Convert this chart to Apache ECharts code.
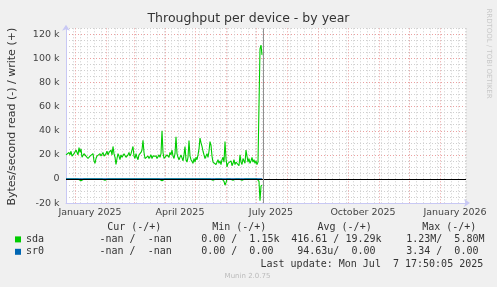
<!DOCTYPE html>
<html><head><meta charset="utf-8">
<script src="https://cdn.jsdelivr.net/npm/echarts@6/dist/echarts.min.js"></script>
<style>html,body{margin:0;padding:0;background:#f0f0f0}#c{width:497px;height:287px}</style>
</head><body><div id="c"></div>
<script>
// x = days since 2024-12-23 (left edge of the graph), values in k (1000 bytes/s)
const sdaWriteK = [
  20, 21, 19, 22, 20, 23, 19, 18, 21, 22,
  24, 25, 20, 26, 22, 25, 18, 17, 21, 22,
  19, 20, 17, 16, 19, 20, 18, 21, 15, 13,
  17, 19, 20, 18, 21, 19, 20, 22, 19, 20,
  21, 23, 20, 22, 21, 24, 20, 27, 21, 18,
  12, 17, 21, 19, 16, 20, 18, 19, 21, 20,
  18, 19, 20, 22, 19, 21, 20, 27, 19, 17,
  21, 18, 16, 20, 19, 22, 24, 32, 22, 17,
  18, 16, 19, 17, 18, 20, 17, 19, 18, 20,
  19, 17, 18, 20, 18, 21, 40, 22, 17, 18,
  16, 20, 19, 18, 22, 20, 24, 19, 17, 21,
  35, 21, 18, 16, 17, 20, 19, 15, 20, 27,
  16, 14, 18, 32, 19, 16, 15, 13, 17, 14,
  18, 16, 20, 25, 34, 30, 27, 23, 20, 17,
  19, 21, 18, 23, 31, 28, 19, 14, 13, 15,
  12, 14, 16, 13, 15, 12, 16, 18, 14, 31,
  17, 10, 13, 14, 12, 15, 11, 13, 16, 12,
  14, 13, 15, 11, 20, 14, 12, 17, 16, 13,
  24, 19, 14, 17, 13, 15, 18, 14, 16, 13,
  15, 12, 14, 13, 108, 111, 103
];
// read values drawn below zero
const sdaReadK = [
  0, 0, 0, 0, 0, 0, 0, 0, 0, 0,
  0, 0, 0, 0, 0, -1.5, -2, 0, 0, 0,
  0, 0, 0, 0, 0, 0, 0, 0, 0, 0,
  0, 0, 0, 0, 0, 0, 0, 0, 0, -1,
  0, 0, 0, 0, 0, 0, 0, 0, 0, 0,
  0, 0, 0, 0, 0, 0, 0, 0, 0, 0,
  0, 0, 0, 0, 0, 0, 0, -1.5, -1, 0,
  0, 0, 0, 0, 0, 0, 0, 0, 0, 0,
  0, 0, 0, 0, 0, 0, -1, 0, 0, 0,
  0, 0, 0, 0, 0, 0, -1.5, -1, 0, 0,
  0, -1, 0, 0, 0, 0, 0, 0, 0, 0,
  0, 0, -1.5, 0, 0, 0, 0, 0, 0, 0,
  0, 0, -1, 0, 0, 0, 0, 0, 0, 0,
  0, 0, 0, 0, 0, 0, -1.5, 0, 0, 0,
  0, 0, 0, 0, 0, 0, 0, -1, 0, 0,
  0, 0, 0, 0, 0, 0, 0, 0, -2, -5,
  -3, 0, 0, 0, 0, 0, 0, -1, 0, 0,
  0, -1.5, 0, 0, 0, 0, -1, 0, 0, 0,
  0, 0, 0, 0, -1.5, 0, 0, 0, 0, 0,
  0, 0, 0, -2, -18, -6, -5
];
const sr0Days = [0, 196];
const sr0WriteK = [0, 0];
const sr0ReadK = [0, 0];

const monthStartDays = [9, 40, 68, 99, 129, 160, 190, 221, 252, 282, 313, 343, 374];
const xLabelDays = [24, 114, 205, 297, 389];
const xLabels = ['January 2025', 'April 2025', 'July 2025', 'October 2025', 'January 2026'];
const lastUpdateDay = 197.5;

const titleText = 'Throughput per device - by year';
const yAxisTitle = 'Bytes/second read (-) / write (+)';
const legendNames = ['sda', 'sr0'];
const statHeaders = ['Cur (-/+)', 'Min (-/+)', 'Avg (-/+)', 'Max (-/+)'];
const sdaStats = ['-nan /  -nan', '0.00 /  1.15k', '416.61 / 19.29k', '1.23M/  5.80M'];
const sr0Stats = ['-nan /  -nan', '0.00 /  0.00', '94.63u/  0.00', '3.34 /  0.00'];
const lastUpdateText = 'Last update: Mon Jul  7 17:50:05 2025';
const muninText = 'Munin 2.0.75';
const watermark = 'RRDTOOL / TOBI OETIKER';

const GREEN = '#00cc00', BLUE = '#0066b3';
const MINOR = '#cfcfcf', MAJOR = '#eca0a0', AXIS = '#c8c8f4';
const DOT = [1, 2];
const dayCats = Array.from({length: 401}, (_, i) => String(i));

const chart = echarts.init(document.getElementById('c'), null, {renderer: 'canvas'});

function line(name, xs, ys, color, extra) {
  return Object.assign({
    name, type: 'line', xAxisIndex: 0, yAxisIndex: 0,
    data: ys.map((v, i) => [xs ? xs[i] : i, v]),
    showSymbol: false, symbol: 'none', animation: false, silent: true,
    lineStyle: {width: 1.1, color}, itemStyle: {color}, z: 3
  }, extra || {});
}

const mono = 'DejaVu Sans Mono';
const texts = [];
function t(x, y, text, opts) {
  texts.push(Object.assign({type: 'text', x, y, silent: true, style: Object.assign({
    text, fontFamily: mono, fontSize: 10, fill: '#333', align: 'left', verticalAlign: 'middle'
  }, opts || {})}));
}
const hdrX = [107.2, 212.2, 317.5, 422.2];
const sdaX = [99.5, 201.2, 291.2, 406.2];
const sr0X = [99.5, 201.2, 297.2, 406.2];
statHeaders.forEach((s, i) => t(hdrX[i], 227.7, s));
sdaStats.forEach((s, i) => t(sdaX[i], 239.5, s));
sr0Stats.forEach((s, i) => t(sr0X[i], 251.8, s));
t(260.5, 264, lastUpdateText);
t(247.5, 276, muninText, {fontFamily: 'DejaVu Sans', fontSize: 7, fill: '#bbb', align: 'center'});
t(248.5, 19, titleText, {fontFamily: 'DejaVu Sans', fontSize: 12.5, fill: '#333', align: 'center'});
texts.push({type: 'text', x: 12, y: 116.7, rotation: Math.PI / 2, silent: true,
  style: {text: yAxisTitle, fontFamily: 'DejaVu Sans', fontSize: 11, fill: '#333', align: 'center', verticalAlign: 'middle'}});
texts.push({type: 'text', x: 489, y: 53.5, rotation: -Math.PI / 2, silent: true,
  style: {text: watermark, fontFamily: 'DejaVu Sans', fontSize: 7, fill: '#c8c8c8', align: 'center', verticalAlign: 'middle'}});

const option = {
  backgroundColor: '#f0f0f0',
  animation: false,
  textStyle: {fontFamily: 'DejaVu Sans'},
  grid: [
    {left: 66, width: 400, top: 28.3, height: 174.8, show: true, backgroundColor: '#ffffff', borderWidth: 0, containLabel: false},
    {left: 66, width: 400, top: 34.3, height: 168.8, show: false, containLabel: false}
  ],
  xAxis: [
    {gridIndex: 0, type: 'value', min: 0, max: 400, interval: 7,
     axisLabel: {show: false}, axisTick: {show: false},
     axisLine: {show: true, onZero: false, lineStyle: {color: AXIS, width: 1}, symbol: ['none', 'arrow'], symbolSize: [6, 6], symbolOffset: [0, 4]},
     splitLine: {show: true, lineStyle: {color: MINOR, width: 1, type: DOT}}},
    {gridIndex: 0, type: 'category', data: dayCats, boundaryGap: false, position: 'bottom',
     axisLine: {show: false}, axisTick: {show: false},
     splitLine: {show: true, interval: (i) => monthStartDays.indexOf(i) >= 0, lineStyle: {color: MAJOR, width: 1, type: DOT}},
     axisLabel: {show: true, interval: (i) => xLabelDays.indexOf(i) >= 0,
       formatter: (v, i) => xLabels[xLabelDays.indexOf(Number(v))] || '',
       fontSize: 9.5, color: '#444', margin: 4, fontFamily: 'DejaVu Sans'}},
    {gridIndex: 1, type: 'value', min: 0, max: 400, show: false}
  ],
  yAxis: [
    {gridIndex: 0, type: 'value', min: -20, max: 125, interval: 5,
     axisLabel: {show: false}, axisTick: {show: false},
     axisLine: {show: true, onZero: false, lineStyle: {color: AXIS, width: 1}, symbol: ['none', 'arrow'], symbolSize: [6, 6], symbolOffset: [0, 3.6]},
     splitLine: {show: true, lineStyle: {color: MINOR, width: 1, type: DOT}}},
    {gridIndex: 1, type: 'value', min: -20, max: 120, interval: 20,
     axisLine: {show: false}, axisTick: {show: false},
     axisLabel: {fontSize: 9.5, color: '#444', margin: 6.5, fontFamily: 'DejaVu Sans',
       formatter: (v) => v === 0 ? '0' : v + ' k'},
     splitLine: {show: true, lineStyle: {color: MAJOR, width: 1, type: DOT}}}
  ],
  legend: {
    orient: 'vertical', left: 15, top: 233.4, padding: 0, itemGap: 0.4,
    itemWidth: 6, itemHeight: 6, icon: 'rect', selectedMode: false,
    data: legendNames,
    textStyle: {fontFamily: mono, fontSize: 10, color: '#333', lineHeight: 12}
  },
  series: [
    line('sda', null, sdaWriteK, GREEN),
    line('sda', null, sdaReadK, GREEN),
    line('sr0', sr0Days, sr0WriteK, BLUE),
    line('sr0', sr0Days, sr0ReadK, BLUE, {
      markLine: {silent: true, symbol: 'none', animation: false, label: {show: false},
        lineStyle: {color: '#909090', width: 1, type: 'solid'},
        emphasis: {disabled: true},
        data: [
          {yAxis: 0, lineStyle: {color: '#000000', width: 1, type: 'solid'}},
          {xAxis: lastUpdateDay, lineStyle: {color: '#909090', width: 1, type: 'solid'}}
        ]}
    })
  ],
  graphic: texts
};
chart.setOption(option);
</script>
</body></html>
